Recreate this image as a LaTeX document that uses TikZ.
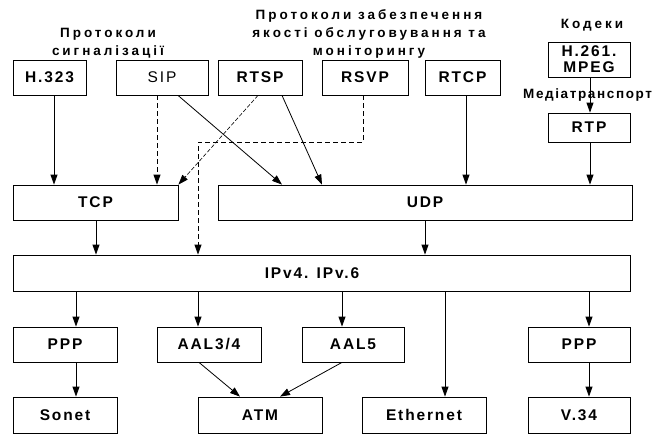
\documentclass[tikz,border=0pt]{standalone}
\usepackage{fontspec}
\setmainfont{Liberation Sans}
\newfontfamily\lsp[LetterSpace=12]{Liberation Sans}
\newfontfamily\lspw[LetterSpace=22]{Liberation Sans}
\usetikzlibrary{arrows.meta}
\begin{document}
\begin{tikzpicture}[x=1pt,y=-1pt,
  box/.style={draw, fill=white, line width=0.8pt, inner sep=0pt, minimum height=35pt,
    font=\lsp\bfseries\fontsize{15.5}{17}\selectfont},
  arr/.style={line width=0.8pt, -{Triangle[length=10pt,width=7pt]}},
  dsh/.style={arr, dash pattern=on 5pt off 3pt},
  thindsh/.style={arr, line width=0.6pt, dash pattern=on 4pt off 2pt},
  lbl/.style={font=\lspw\bfseries\fontsize{13.5}{17}\selectfont, anchor=base, inner sep=0pt}]
\useasboundingbox (0,0) rectangle (665,434);
% labels
\node[lbl] (l1a) at (108,37) {Протоколи};
\node[lbl] (l1b) at (108,55) {сигналізації};
\node[lbl] (l2a) at (369,19) {Протоколи забезпечення};
\node[lbl] (l2b) at (369,37) {якості обслуговування та};
\node[lbl] (l2c) at (369,55) {моніторингу};
\node[lbl] (l3) at (592,28) {Кодеки};
\node[lbl, anchor=base west, font=\lsp\bfseries\fontsize{13.5}{17}\selectfont] (l4) at (523,98) {Медіатранспорт};
% top row
\node[box, minimum width=73pt] (h323) at (49.5,77.5) {H.323};
\node[box, minimum width=92pt, font=\lsp\fontsize{15.5}{17}\selectfont] (sip) at (162,77.5) {SIP};
\node[box, minimum width=84pt] (rtsp) at (260,77.5) {RTSP};
\node[box, minimum width=86pt] (rsvp) at (365,77.5) {RSVP};
\node[box, minimum width=75pt] (rtcp) at (462.5,77.5) {RTCP};
\node[box, minimum width=82pt, align=center, font=\lsp\bfseries\fontsize{15.5}{17}\selectfont] (codec) at (589,59.5) {H.261.\\[-1pt]MPEG};
\node[box, minimum width=82pt, minimum height=29pt] (rtp) at (589,127.5) {RTP};
% transport
\node[box, minimum width=165pt] (tcp) at (95.5,202.5) {TCP};
\node[box, minimum width=414pt] (udp) at (425,202.5) {UDP};
% network
\node[box, minimum width=617pt, minimum height=36pt] (ip) at (321.5,273) {};
\node[font=\lsp\bfseries\fontsize{15.5}{17}\selectfont] (iptxt) at (312,273) {IPv4. IPv.6};
% link
\node[box, minimum width=104pt] (ppp1) at (65,344.5) {PPP};
\node[box, minimum width=104pt] (aal34) at (209,344.5) {AAL3/4};
\node[box, minimum width=102pt] (aal5) at (353,344.5) {AAL5};
\node[box, minimum width=102pt] (ppp2) at (579,344.5) {PPP};
% physical
\node[box, minimum width=104pt, minimum height=36pt] (sonet) at (65,415) {Sonet};
\node[box, minimum width=124pt, minimum height=36pt] (atm) at (260,415) {ATM};
\node[box, minimum width=124pt, minimum height=36pt] (eth) at (424,415) {Ethernet};
\node[box, minimum width=102pt, minimum height=36pt] (v34) at (579,415) {V.34};
% column coordinates
\coordinate (c54) at (54,0);
\coordinate (c76) at (76,0);
\coordinate (c96) at (96,0);
\coordinate (c157) at (157,0);
\coordinate (c178) at (178,0);
\coordinate (c198) at (198,0);
\coordinate (c199) at (199,0);
\coordinate (c240) at (240,0);
\coordinate (c258) at (258,0);
\coordinate (c280) at (280,0);
\coordinate (c282) at (282,0);
\coordinate (c322) at (322,0);
\coordinate (c342) at (342,0);
\coordinate (c363) at (363,0);
\coordinate (c425) at (425,0);
\coordinate (c445) at (445,0);
\coordinate (c466) at (466,0);
\coordinate (c589) at (589,0);
\coordinate (c590) at (590,0);
\coordinate (r142) at (0,142);
% connectors
\draw[arr] (h323.south -| c54) -- (tcp.north -| c54);
\draw[dsh] (sip.south -| c157) -- (tcp.north -| c157);
\draw[arr] (sip.south -| c178) -- (udp.north -| c282);
\draw[thindsh] (rtsp.south -| c258) -- (tcp.north east);
\draw[arr] (rtsp.south -| c282) -- (udp.north -| c322);
\draw[dsh] (rsvp.south -| c363) -- (r142 -| c363) -- (r142 -| c198) -- (ip.north -| c198);
\draw[arr] (rtcp.south -| c466) -- (udp.north -| c466);
\draw[arr] (codec.south -| c590) -- (rtp.north -| c590);
\draw[arr] (rtp.south -| c590) -- (udp.north -| c590);
\draw[arr] (tcp.south -| c96) -- (ip.north -| c96);
\draw[arr] (udp.south -| c425) -- (ip.north -| c425);
\draw[arr] (ip.south -| c76) -- (ppp1.north -| c76);
\draw[arr] (ip.south -| c198) -- (aal34.north -| c198);
\draw[arr] (ip.south -| c342) -- (aal5.north -| c342);
\draw[arr] (ip.south -| c445) -- (eth.north -| c445);
\draw[arr] (ip.south -| c589) -- (ppp2.north -| c589);
\draw[arr] (ppp1.south -| c76) -- (sonet.north -| c76);
\draw[arr] (ppp2.south -| c589) -- (v34.north -| c589);
\draw[arr] (aal34.south -| c199) -- (atm.north -| c240);
\draw[arr] (aal5.south -| c342) -- (atm.north -| c280);
\end{tikzpicture}
\end{document}
